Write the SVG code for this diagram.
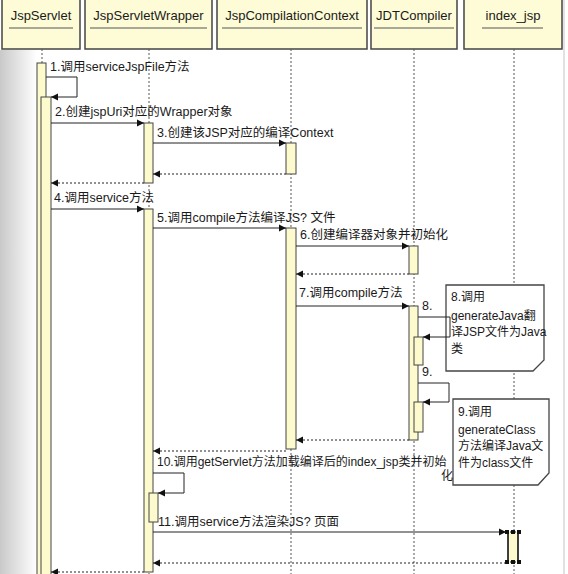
<svg xmlns="http://www.w3.org/2000/svg" width="568" height="574" viewBox="0 0 568 574">
<defs>
<linearGradient id="lg" x1="0" y1="0" x2="1" y2="0">
<stop offset="0" stop-color="#c9c9c9"/>
<stop offset="1" stop-color="#ffffff"/>
</linearGradient>
<marker id="ah" markerWidth="8" markerHeight="8" refX="7" refY="4" orient="auto" markerUnits="userSpaceOnUse">
<path d="M0,0.5 L7,4 L0,7.5 Z" fill="#111"/>
</marker>
</defs>
<style>
text{font-family:"Liberation Sans","Noto Sans CJK SC",sans-serif;font-size:12px;fill:#1a1a1a}
.lb{font-size:12.5px}
.hd{font-size:13px;text-anchor:middle}
.box{fill:#fefcd6;stroke:#444;stroke-width:1.5}
.ul{stroke:#555;stroke-width:1.2}
.life{stroke:#555;stroke-width:1;stroke-dasharray:2,2;fill:none}
.bar{fill:#fdfbcd;stroke:#444;stroke-width:1}
.msg{stroke:#222;stroke-width:1;fill:none;marker-end:url(#ah)}
.ret{stroke:#222;stroke-width:1;fill:none;stroke-dasharray:2,2;marker-end:url(#ah)}
.note{fill:#ffffff;stroke:#444;stroke-width:1.3}
</style>
<rect x="0" y="0" width="568" height="574" fill="#ffffff"/>
<rect x="0" y="50" width="37" height="524" fill="url(#lg)"/>
<line x1="564" y1="0" x2="564" y2="574" stroke="#e2e2e2" stroke-width="2"/>

<g id="JspServlet">
<rect class="box" x="2" y="-2" width="78" height="51"/>
<text class="hd" x="41" y="20">JspServlet</text>
<line class="ul" x1="9" y1="28" x2="73" y2="28"/>
<line class="life" x1="42" y1="49" x2="42" y2="574"/>
</g>
<g id="JspServletWrapper">
<rect class="box" x="85" y="-2" width="127" height="51"/>
<text class="hd" x="148.5" y="20">JspServletWrapper</text>
<line class="ul" x1="90" y1="28" x2="207" y2="28"/>
<line class="life" x1="149" y1="49" x2="149" y2="574"/>
</g>
<g id="JspCompilationContext">
<rect class="box" x="217" y="-2" width="150" height="51"/>
<text class="hd" x="292" y="20">JspCompilationContext</text>
<line class="ul" x1="222" y1="28" x2="362" y2="28"/>
<line class="life" x1="291" y1="49" x2="291" y2="574"/>
</g>
<g id="JDTCompiler">
<rect class="box" x="371" y="-2" width="86" height="51"/>
<text class="hd" x="414" y="20">JDTCompiler</text>
<line class="ul" x1="374" y1="28" x2="454" y2="28"/>
<line class="life" x1="414" y1="49" x2="414" y2="574"/>
</g>
<g id="index_jsp">
<rect class="box" x="464" y="-2" width="98" height="51"/>
<text class="hd" x="513" y="20">index_jsp</text>
<line class="ul" x1="482" y1="28" x2="543" y2="28"/>
<line class="life" x1="514" y1="49" x2="514" y2="574"/>
</g>

<g id="note8">
<path class="note" d="M446,285 H544 V360 L533,371 H446 Z"/>
<text x="451" y="301">8.调用</text>
<text x="451" y="320">generateJava翻</text>
<text x="451" y="336">译JSP文件为Java</text>
<text x="451" y="353">类</text>
</g>
<g id="note9">
<path class="note" d="M453,399 H549 V473 L538,485 H453 Z"/>
<text x="458" y="416">9.调用</text>
<text x="458" y="434">generateClass</text>
<text x="458" y="450">方法编译Java文</text>
<text x="458" y="467">件为class文件</text>
</g>

<g id="activations">
<rect class="bar" x="37" y="63" width="9" height="515"/>
<rect class="bar" x="41" y="97" width="10" height="481"/>
<rect class="bar" x="144" y="123" width="9" height="60"/>
<rect class="bar" x="286" y="143" width="10" height="31"/>
<rect class="bar" x="144" y="209" width="9" height="363"/>
<rect class="bar" x="286" y="228" width="10" height="221"/>
<rect class="bar" x="409" y="246" width="9" height="28"/>
<rect class="bar" x="409" y="306" width="9" height="134"/>
<rect class="bar" x="414" y="337" width="9" height="28"/>
<rect class="bar" x="414" y="402" width="9" height="30"/>
<rect class="bar" x="149" y="493" width="9" height="29"/>
</g>
<g id="index_activation">
<rect x="508" y="532" width="10" height="30" fill="#fdfbcd" stroke="none"/>
<line x1="508" y1="532" x2="508" y2="562" stroke="#111" stroke-width="1.6"/>
<line x1="518" y1="532" x2="518" y2="562" stroke="#111" stroke-width="1.6"/>
<line x1="506" y1="532" x2="520" y2="532" stroke="#111" stroke-width="1" stroke-dasharray="2,2"/>
<line x1="506" y1="562" x2="520" y2="562" stroke="#111" stroke-width="1" stroke-dasharray="2,2"/>
<rect x="505" y="530" width="4" height="4" fill="#111"/>
<rect x="511" y="530" width="4" height="4" fill="#111"/>
<rect x="517" y="530" width="4" height="4" fill="#111"/>
<rect x="505" y="560" width="4" height="4" fill="#111"/>
<rect x="511" y="560" width="4" height="4" fill="#111"/>
<rect x="517" y="560" width="4" height="4" fill="#111"/>
</g>

<g id="connectors">
<path class="msg" d="M46,77 H77 V97 H51"/>
<line class="msg" x1="51" y1="123" x2="144" y2="123"/>
<line class="msg" x1="153" y1="143" x2="286" y2="143"/>
<line class="ret" x1="286" y1="174" x2="153" y2="174"/>
<line class="ret" x1="144" y1="183" x2="51" y2="183"/>
<line class="msg" x1="51" y1="209" x2="144" y2="209"/>
<line class="msg" x1="153" y1="228" x2="286" y2="228"/>
<line class="msg" x1="296" y1="246" x2="409" y2="246"/>
<line class="ret" x1="409" y1="274" x2="296" y2="274"/>
<line class="msg" x1="296" y1="306" x2="409" y2="306"/>
<path class="msg" d="M418,317 H450 V337 H423"/>
<path class="msg" d="M418,383 H449 V402 H423"/>
<line class="ret" x1="409" y1="440" x2="296" y2="440"/>
<line class="ret" x1="286" y1="451" x2="153" y2="451"/>
<path class="msg" d="M153,473 H184 V493 H158"/>
<line class="msg" x1="153" y1="532" x2="506" y2="532"/>
<line class="ret" x1="506" y1="563" x2="153" y2="563"/>
<line class="ret" x1="144" y1="572" x2="51" y2="572"/>
</g>

<g id="labels">
<text class="lb" x="50" y="71">1.调用serviceJspFile方法</text>
<text class="lb" x="55" y="116">2.创建jspUri对应的Wrapper对象</text>
<text class="lb" x="157" y="137">3.创建该JSP对应的编译Context</text>
<text class="lb" x="54" y="202">4.调用service方法</text>
<text class="lb" x="157" y="222">5.调用compile方法编译JS? 文件</text>
<text class="lb" x="300" y="239">6.创建编译器对象并初始化</text>
<text class="lb" x="299" y="297">7.调用compile方法</text>
<text class="lb" x="422" y="310">8.</text>
<text class="lb" x="422" y="376">9.</text>
<text x="157" y="466">10.调用getServlet方法加载编译后的index_jsp类并初始</text>
<text x="441" y="480">化</text>
<text class="lb" x="158" y="526">11.调用service方法渲染JS? 页面</text>
</g>
</svg>
